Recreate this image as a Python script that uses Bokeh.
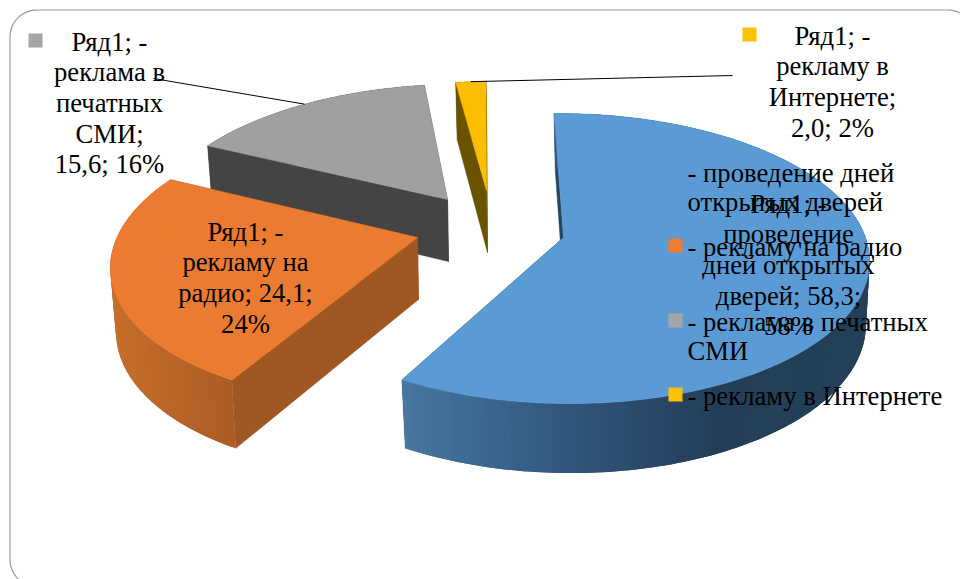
from bokeh.plotting import figure
from bokeh.models import Range1d
from bokeh.core.properties import value
from bokeh.embed import file_html
from bokeh.resources import INLINE
import numpy as np

# Survey shares, percent
categories = ["- проведение дней открытых дверей", "- рекламу на радио",
              "- реклама в печатных СМИ", "- рекламу в Интернете"]
shares = [58.3, 24.1, 15.6, 2.0]

# Data label lines for each slice
label_blue = ["Ряд1; -", "проведение", "дней открытых", "дверей; 58,3;", "58%"]
label_orange = ["Ряд1; -", "рекламу на", "радио; 24,1;", "24%"]
label_gray = ["Ряд1; -", "реклама в", "печатных", "СМИ;", "15,6; 16%"]
label_yellow = ["Ряд1; -", "рекламу в", "Интернете;", "2,0; 2%"]

# Legend text, wrapped
legend_lines = [["- проведение дней", "открытых дверей"], ["- рекламу на радио"],
                ["- реклама в печатных", "СМИ"], ["- рекламу в Интернете"]]

# Slice appearance
top_colors = ["#5B9BD5", "#EA7B30", "#A0A0A0", "#FDBD00"]
marker_colors = ["#5B9BD5", "#EC7C30", "#A5A5A5", "#FFC000"]
cut_colors = ["#274560", "#A05722", "#444444", "#6B5200"]
wall_stops = [["#47769F", "#33587F", "#243E58", "#234058"],
              ["#C66E2C", "#AB5C24"],
              ["#444444", "#444444"],
              ["#6B5200", "#6B5200"]]

# Projection of the exploded disc
apex_x = [563, 417, 447, 486]
apex_y = [237, 237, 199, 190]
scale_x = [1.0, 0.995, 0.96, 0.915]
scale_y = [1.0, 1.0, 0.93, 0.88]
vanish_x = [525, 550, 550, 515]
RX, RY, PERSP = 302, 142, 0.145
START_ANGLE = -1.0
DEPTH = 62


def project(theta, i):
    t = np.radians(theta)
    sx, cy = np.sin(t), np.cos(t)
    w = 1 / (1 + PERSP * cy)
    x = apex_x[i] + scale_x[i] * RX * sx * w + (apex_x[i] - vanish_x[i]) * (w - 1)
    y = apex_y[i] - scale_y[i] * RY * cy * w
    return x, y


def lower(x, y, i):
    return apex_x[i] + (x - apex_x[i]) * 0.985 + 1, apex_y[i] + DEPTH + (y - apex_y[i]) * 1.045


def lerp_color(stops, f):
    rgb = np.array([[int(c[k:k + 2], 16) for k in (1, 3, 5)] for c in stops], float)
    pos = np.linspace(0, 1, len(stops))
    vals = [int(round(np.interp(f, pos, rgb[:, j]))) for j in range(3)]
    return "#%02x%02x%02x" % tuple(vals)


p = figure(width=960, height=579, x_range=Range1d(0, 960), y_range=Range1d(579, 0),
           output_backend="svg", toolbar_location=None, min_border=0)
p.axis.visible = False
p.grid.visible = False
p.outline_line_color = None
p.background_fill_color = "white"
p.border_fill_color = "white"

# Rounded slide frame, open past the right and bottom edges
arc = np.radians(np.arange(0, 91, 5))
FR = 27
frame_x = list(9.5 + FR - FR * np.cos(arc)) + list(947 + FR * np.sin(arc))
frame_y = list(9.5 + FR - FR * np.sin(arc)) + list(9.5 + FR - FR * np.cos(arc))
bl_x = list(9.5 + FR - FR * np.cos(arc))
bl_y = list(559 + FR * np.sin(arc))
p.line(bl_x[::-1] + frame_x, bl_y[::-1] + frame_y, line_color="#999999", line_width=1.2)

# Cumulative angles from the shares
edges = START_ANGLE + np.cumsum([0] + shares) * 3.6
order = [2, 3, 1, 0]

for i in order:
    th = np.linspace(edges[i], edges[i + 1], max(int(edges[i + 1] - edges[i]) + 2, 6))
    x, y = project(th, i)
    bx, by = lower(x, y, i)
    ax, ay = apex_x[i], apex_y[i]
    abx, aby = lower(np.array(ax, float), np.array(ay, float), i)

    # Radial cut faces
    for j in (0, -1):
        p.patch([ax, x[j], bx[j], abx], [ay, y[j], by[j], aby],
                fill_color=cut_colors[i], line_color=cut_colors[i], line_width=0.5)

    # Outer rim, shaded along its horizontal extent; each band overlaps the next
    lo, hi = min(x), max(x)
    n_pts = len(x)
    for k in range(n_pts - 1):
        e = min(k + 3, n_pts)
        col = lerp_color(wall_stops[i], (0.5 * (x[k] + x[k + 1]) - lo) / (hi - lo))
        p.patch(list(x[k:e]) + list(bx[k:e][::-1]), list(y[k:e]) + list(by[k:e][::-1]),
                fill_color=col, line_color=None)

    # Top face
    p.patch([ax] + list(x), [ay] + list(y), fill_color=top_colors[i], line_color=top_colors[i],
            line_width=0.5)

# Leader lines run from the label to the middle of the slice edge
mid_g = project(0.5 * (edges[2] + edges[3]), 2)
mid_y = project(0.5 * (edges[3] + edges[4]), 3)
p.line([153, float(mid_g[0])], [78, float(mid_g[1])], line_color="black", line_width=1)
p.line([732, float(mid_y[0])], [75, float(mid_y[1])], line_color="black", line_width=1)

FONT = value("Liberation Serif")
SIZE = "26.67px"
BASE_SHIFT = -9


def put_lines(lines, xpos, ytop, step, align):
    ys = [ytop + BASE_SHIFT + n * step for n in range(len(lines))]
    p.text([xpos] * len(lines), ys, text=lines, text_font=FONT, text_font_size=SIZE,
           text_color="black", text_align=align, text_baseline="alphabetic")


def square(left, top, color):
    p.quad(left=[left], right=[left + 14], top=[top], bottom=[top + 14],
           fill_color=color, line_color=None)


# Marker squares that belong to the data labels
square(28, 33, marker_colors[2])
square(742, 27, marker_colors[3])
square(153, 225, marker_colors[1])
square(677, 197, marker_colors[0])

put_lines(label_gray, 109, 50, 30.7, "center")
put_lines(label_yellow, 832, 44, 30.7, "center")
put_lines(label_orange, 245, 240, 30.7, "center")
put_lines(label_blue, 788, 212, 30.7, "center")

# Legend inside the plot area
legend_tops = [181, 255, 330, 404]
square_tops = [165, 238, 313, 387]
for n in range(len(categories)):
    square(668, square_tops[n], marker_colors[n])
    put_lines(legend_lines[n], 687, legend_tops[n], 29.5, "left")

open("out.html", "w").write(file_html(p, INLINE))
